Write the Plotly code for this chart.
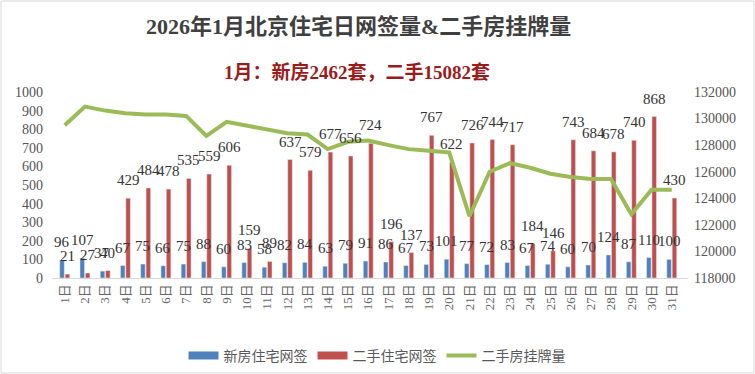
import plotly.graph_objects as go

days = [f"{i}日" for i in range(1, 32)]
new_homes = [96, 107, 37, 67, 75, 66, 75, 88, 60, 83, 58, 82, 84, 63, 79, 91,
             86, 67, 73, 101, 77, 72, 83, 67, 74, 60, 70, 124, 87, 110, 100]
second_hand = [21, 27, 40, 429, 484, 478, 535, 559, 606, 159, 89, 637, 579, 677, 656, 724,
               196, 137, 767, 622, 726, 744, 717, 184, 146, 743, 684, 678, 740, 868, 430]
listings = [129500, 130900, 130600, 130400, 130300, 130300, 130200, 128700, 129750, 129450,
            129200, 128900, 128800, 127700, 128250, 128350, 128000, 127700, 127580, 127450,
            122650, 126000, 126650, 126300, 125850, 125600, 125450, 125450, 122800, 124650, 124650]

BLUE, RED, GREEN = "#4F81BD", "#C0504D", "#9BBB59"
label_font = dict(family="Liberation Serif, Times New Roman, serif", size=15, color="#333333")

PW = 636
PH = 186
BARGAP, GROUPGAP = 0.47, 0.15

fig = go.Figure()
fig.add_trace(go.Bar(x=days, y=new_homes, name="新房住宅网签", marker_color=BLUE, showlegend=False))
fig.add_trace(go.Bar(x=days, y=second_hand, name="二手住宅网签", marker_color=RED, showlegend=False))
fig.add_trace(go.Scatter(x=days, y=listings, name="二手房挂牌量", mode="lines",
                         line=dict(color=GREEN, width=4), yaxis="y2", showlegend=False))

# legend entries (wide flat swatches like the original)
for name, col, w in [("新房住宅网签", BLUE, 8), ("二手住宅网签", RED, 8), ("二手房挂牌量", GREEN, 4)]:
    fig.add_trace(go.Scatter(x=[None], y=[None], name=name, mode="lines",
                             line=dict(color=col, width=w), showlegend=True))

# value labels above bars, horizontally centred on each bar of the group
slot = PW / len(days)
bar_off = slot * (1 - BARGAP) / 4
labels = []
for series, sign in [(new_homes, -1), (second_hand, 1)]:
    for d, v in zip(days, series):
        labels.append(dict(x=d, y=v, xref="x", yref="y", text=str(v), showarrow=False,
                           xanchor="center", yanchor="bottom", xshift=sign * bar_off, yshift=8,
                           font=label_font))

axis_font = dict(family="Liberation Serif, Times New Roman, serif", size=14, color="#555555")

fig.update_layout(
    width=755, height=374,
    margin=dict(l=52, r=67, t=92, b=96, autoexpand=False),
    paper_bgcolor="white", plot_bgcolor="white",
    barmode="group", bargap=BARGAP, bargroupgap=GROUPGAP,
    showlegend=True,
    legend=dict(orientation="h", x=(377 - 52) / PW, xanchor="center", y=-(340 - 278) / PH, yanchor="top",
                font=dict(family="Noto Sans CJK SC, sans-serif", size=14, color="#595959"),
                itemwidth=30, tracegroupgap=0),
    xaxis=dict(tickangle=-90, tickfont=dict(family="Liberation Serif, Noto Sans CJK SC", size=13, color="#666666"),
               showline=True, linecolor="#D9D9D9", linewidth=1, ticks="", showgrid=False),
    yaxis=dict(range=[0, 1000], dtick=100, tickfont=axis_font, showgrid=False,
               zeroline=False, showline=False, ticks="", ticklabelstandoff=8),
    yaxis2=dict(range=[118000, 132000], dtick=2000, overlaying="y", side="right", tickformat="d",
                tickfont=axis_font, showgrid=False, showline=False, ticks="", zeroline=False,
                ticklabelstandoff=5),
    annotations=labels + [
        dict(text="<b>2026年1月北京住宅日网签量&二手房挂牌量</b>", xref="paper", yref="paper",
             x=(358 - 52) / PW, y=1 + (92 - 27) / PH, xanchor="center", yanchor="middle",
             showarrow=False, font=dict(family="Liberation Serif, Noto Sans CJK SC", size=22, color="#404040")),
        dict(text="<b>1月：新房2462套，二手15082套</b>", xref="paper", yref="paper",
             x=(357 - 52) / PW, y=1 + (92 - 72) / PH, xanchor="center", yanchor="middle",
             showarrow=False, font=dict(family="Liberation Serif, Noto Sans CJK SC", size=19, color="#9B1B1B")),
    ],
    shapes=[dict(type="rect", xref="paper", yref="paper",
                 x0=-51 / PW, x1=1 + 66 / PW, y0=-95 / PH, y1=1 + 91 / PH,
                 line=dict(color="#D9D9D9", width=1))],
)

fig.write_html("out.html", config={"displayModeBar": False})

# remove default page margin so the figure sits at the window's top-left corner
with open("out.html", "r", encoding="utf-8") as f:
    html = f.read()
html = html.replace("<body>", '<body style="margin:0;padding:0;">', 1)
with open("out.html", "w", encoding="utf-8") as f:
    f.write(html)
